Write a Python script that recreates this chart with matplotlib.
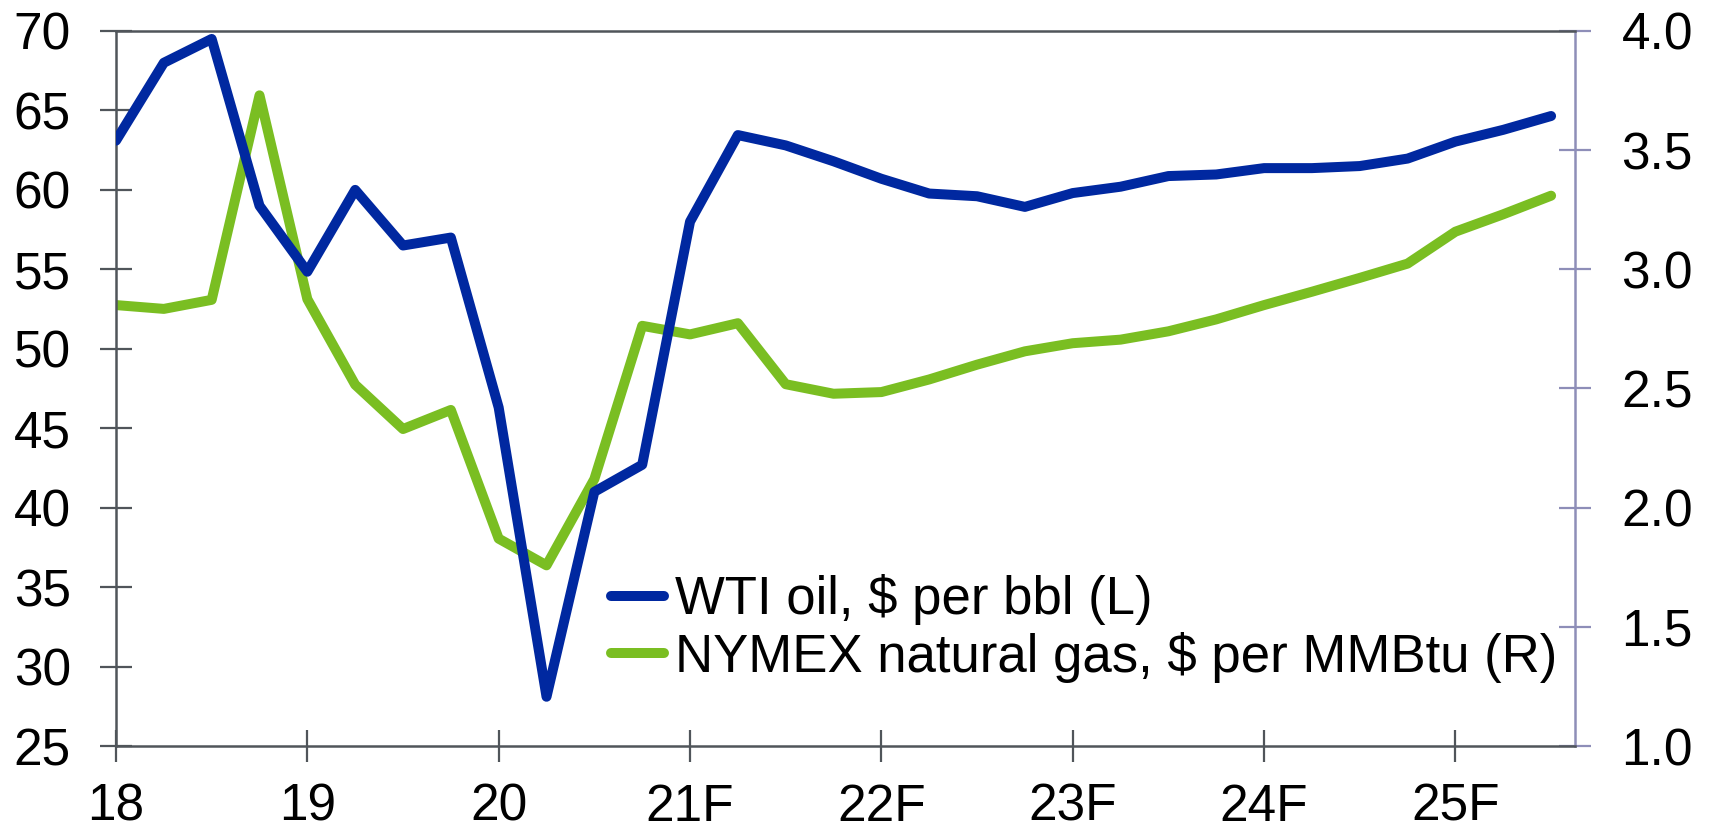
import matplotlib
matplotlib.use("Agg")
import matplotlib.pyplot as plt
import numpy as np

# Quarterly x positions (year + quarter fraction), 2018Q1 .. 2025Q3
quarters = [18 + 0.25 * i for i in range(31)]

wti = [63.1, 68.0, 69.5, 59.0, 54.85, 60.0, 56.5, 57.0, 46.3, 28.1, 41.0, 42.7,
       58.0, 63.45, 62.8, 61.8, 60.7, 59.77, 59.6, 58.93, 59.8, 60.2, 60.87,
       60.97, 61.37, 61.37, 61.5, 61.97, 63.04, 63.78, 64.65]

gas = [2.85, 2.834, 2.872, 3.73, 2.875, 2.516, 2.33, 2.41, 1.87, 1.758, 2.12,
       2.763, 2.727, 2.774, 2.518, 2.478, 2.485, 2.538, 2.60, 2.656, 2.69,
       2.705, 2.74, 2.79, 2.85, 2.906, 2.964, 3.024, 3.158, 3.231, 3.309]

xtick_pos = [18, 19, 20, 21, 22, 23, 24, 25]
xtick_labels = ["18", "19", "20", "21F", "22F", "23F", "24F", "25F"]
left_ticks = [25, 30, 35, 40, 45, 50, 55, 60, 65, 70]
right_ticks = [1.0, 1.5, 2.0, 2.5, 3.0, 3.5, 4.0]

labels = ["WTI oil, $ per bbl (L)", "NYMEX natural gas, $ per MMBtu (R)"]

BLUE = "#0028A0"
GREEN = "#7ABE22"
GRAY = "#50555A"
LAV = "#8E8EB8"

plt.rcParams["font.family"] = ["Liberation Sans", "DejaVu Sans"]

fig = plt.figure(figsize=(17.13, 8.30), dpi=100)
ax = fig.add_axes([116 / 1713, 84 / 830, (1575 - 116) / 1713, (746 - 31) / 830])
ax2 = ax.twinx()

lw = 7.2
l1, = ax.plot(quarters, wti, color=BLUE, lw=lw, solid_capstyle="round",
              solid_joinstyle="round", zorder=3)
l2, = ax2.plot(quarters, gas, color=GREEN, lw=lw, solid_capstyle="round",
               solid_joinstyle="round", zorder=2)

ax.set_xlim(18, 25.625)
ax.set_ylim(25, 70)
ax2.set_ylim(1.0, 4.0)

ax.set_xticks(xtick_pos)
ax.set_xticklabels(xtick_labels)
ax.set_yticks(left_ticks)
ax.set_yticklabels([str(v) for v in left_ticks])
ax2.set_yticks(right_ticks)
ax2.set_yticklabels([f"{v:.1f}" for v in right_ticks])

for s in ["left", "bottom", "top"]:
    ax.spines[s].set_color(GRAY)
    ax.spines[s].set_linewidth(1.8)
ax.spines["right"].set_visible(False)
for s in ["left", "bottom", "top"]:
    ax2.spines[s].set_visible(False)
ax2.spines["right"].set_color(LAV)
ax2.spines["right"].set_linewidth(1.8)

ax.tick_params(axis="both", direction="inout", length=23, width=1.6,
               color=GRAY, labelsize=37, labelcolor="black", pad=21)
ax.tick_params(axis="x", pad=15)
ax2.tick_params(axis="y", direction="inout", length=23, width=1.6,
                color=LAV, labelsize=37, labelcolor="black", pad=22)

ax.set_zorder(ax2.get_zorder() + 1)
ax.patch.set_visible(False)

leg = ax.legend([l1, l2], labels, loc="center left",
                bbox_to_anchor=(0.3396, 0.1643), frameon=False,
                fontsize=38, handlelength=1.0, handletextpad=0.2,
                borderpad=0, borderaxespad=0, labelspacing=0.12)

fig.savefig("out.png", dpi=100)
